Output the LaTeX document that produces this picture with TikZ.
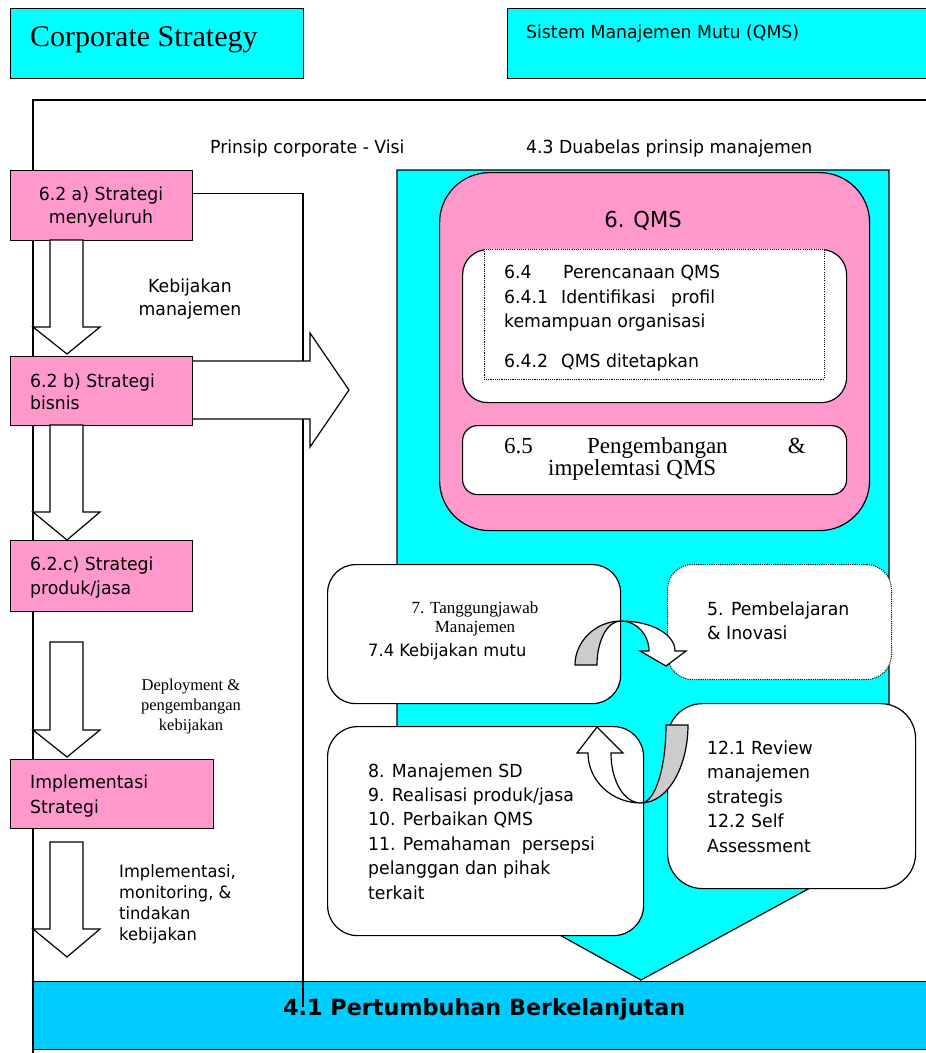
\documentclass[tikz,border=0pt]{standalone}
\usepackage{fontspec}
\setmainfont{DejaVu Sans}[FakeStretch=0.96]
\newfontfamily\serf{Liberation Serif}
\newfontfamily\barf{DejaVu Sans}
\definecolor{cyanA}{HTML}{00FFFF}
\definecolor{pinkA}{HTML}{FF99CC}
\definecolor{blueA}{HTML}{00CCFF}
\definecolor{grayA}{HTML}{CCCCCC}
\tikzset{
  box/.style={draw, line width=1.2pt, inner sep=0pt, anchor=north west},
  cyanbox/.style={box, fill=cyanA},
  pinkbox/.style={box, fill=pinkA},
  wbox/.style={box, fill=white},
  dotbox/.style={box, fill=white, line width=1pt, dash pattern=on 1.1pt off 1.1pt},
  txt/.style={inner sep=0pt, anchor=base west, align=left, font=\fontsize{18}{23.5}\selectfont},
  ctxt/.style={txt, anchor=base, align=center},
  blockarrow/.style={draw, fill=white, line width=1.2pt, line join=miter},
  curvegray/.style={draw, fill=grayA, line width=1.2pt},
  curvewhite/.style={draw, fill=white, line width=1.2pt, line join=miter},
  frame/.style={draw, line width=1.2pt},
}
\begin{document}
\begin{tikzpicture}[x=1pt, y=-1pt]
\useasboundingbox (0,0) rectangle (926,1053);

% ---- top title boxes
\node[cyanbox, minimum width=293pt, minimum height=70pt] (cs) at (10,8) {};
\node[txt, font=\serf\fontsize{30}{32}\selectfont] (cst) at (30,46) {Corporate Strategy};
\node[cyanbox, minimum width=430pt, minimum height=70pt] (qb) at (507,8) {};
\node[txt, font=\fontsize{18}{22}\selectfont] (qbt) at (526,38) {Sistem Manajemen Mutu (QMS)};

% ---- outer frame
\coordinate (ftr) at (926,100);
\coordinate (ftl) at (33,100);
\coordinate (fbl) at (33,1053);
\draw[frame] (ftr) -- (ftl) -- (fbl);

\node[txt] (pv) at (210,153) {Prinsip corporate - Visi};
\node[txt] (dp) at (526,153) {4.3 Duabelas prinsip manajemen};

% ---- bottom bar
\node[box, fill=blueA, minimum width=900pt, minimum height=68pt] (bar) at (33,981) {};
\node[txt, font=\barf\bfseries\fontsize{22.3}{24}\selectfont] (bart) at (283,1015) {4.1 Pertumbuhan Berkelanjutan};

% ---- left column boxes
\node[pinkbox, minimum width=182pt, minimum height=70pt] (a) at (10,170) {};
\node[pinkbox, minimum width=182pt, minimum height=71pt] (c) at (10,540) {};
\node[pinkbox, minimum width=203pt, minimum height=69pt] (d) at (10,759) {};

% vertical line from 6.2 a) down into the bar
\coordinate (v2) at (303,1007);
\draw[frame] ([yshift=12pt]a.east) -| (v2);

% big right block arrow from 6.2 b)
\draw[blockarrow] (192,361) -- (310,361) -- (310,333) -- (349,390) -- (310,447) -- (310,419) -- (192,419);
\node[pinkbox, minimum width=182pt, minimum height=69pt] (b) at (10,356) {};

% down block arrows
\draw[blockarrow] (50,240) -- (83,240) -- (83,327) -- (100,327) -- (67,354) -- (33,327) -- (50,327) -- cycle;
\draw[blockarrow] (50,425) -- (83,425) -- (83,512) -- (100,512) -- (67,540) -- (33,512) -- (50,512) -- cycle;
\draw[blockarrow] (50,642) -- (83,642) -- (83,730) -- (100,730) -- (67,757) -- (33,730) -- (50,730) -- cycle;
\draw[blockarrow] (50,842) -- (83,842) -- (83,929) -- (100,929) -- (67,957) -- (33,929) -- (50,929) -- cycle;

% (anchor = baseline of the last line)
\node[ctxt, font=\fontsize{18}{23}\selectfont] (at) at (101,223) {6.2 a) Strategi\\menyeluruh};
\node[txt, font=\fontsize{18}{22}\selectfont] (bt) at (30,409) {6.2 b) Strategi\\bisnis};
\node[txt, font=\fontsize{18}{24.5}\selectfont] (ct) at (30,594.5) {6.2.c) Strategi\\produk/jasa};
\node[txt, font=\fontsize{18}{25}\selectfont] (dt) at (30,813) {Implementasi\\Strategi};

\node[ctxt, font=\fontsize{18}{23}\selectfont] (km) at (190,315) {Kebijakan\\manajemen};
\node[ctxt, font=\serf\fontsize{16.5}{20}\selectfont] (dep) at (191,730) {Deployment \&\\pengembangan\\kebijakan};
\node[txt, font=\fontsize{17}{21}\selectfont] (imp) at (119,940) {Implementasi,\\monitoring, \&\\tindakan\\kebijakan};

% ---- QMS big cyan down arrow
\draw[frame, fill=cyanA, line join=miter] (397,170) -- (889,170) -- (889,845) -- (641,980) -- (397,845) -- cycle;

\node[pinkbox, rounded corners=50pt, minimum width=430pt, minimum height=358pt] (qms) at (439,172) {};
\node[ctxt, font=\fontsize{22}{26}\selectfont] (qmst) at (643,227) {6. QMS};

\node[wbox, rounded corners=25pt, minimum width=384pt, minimum height=153pt] (p1) at (462,249) {};
\draw[fill=white, line width=1pt, dash pattern=on 1.1pt off 1.1pt] (484,249) rectangle (824,379);
\node[txt] (t64) at (504,278) {6.4};
\node[txt] (t64b) at (563,278) {Perencanaan QMS};
\node[txt] (t641) at (504,303) {6.4.1};
\node[txt] (t641b) at (561,303) {Identifikasi};
\node[txt] (t641c) at (671,303) {profil};
\node[txt] (t641d) at (504,327) {kemampuan organisasi};
\node[txt] (t642) at (504,367) {6.4.2};
\node[txt] (t642b) at (561,367) {QMS ditetapkan};

\node[wbox, rounded corners=15pt, minimum width=384pt, minimum height=69pt] (p2) at (462,425) {};
\node[txt, font=\serf\fontsize{23}{26}\selectfont] (t65) at (504,453) {6.5};
\node[txt, font=\serf\fontsize{23}{26}\selectfont] (t65b) at (587,453) {Pengembangan};
\node[txt, anchor=base east, font=\serf\fontsize{23}{26}\selectfont] (t65c) at (806,453) {\&};
\node[txt, font=\serf\fontsize{23}{26}\selectfont] (t65d) at (548,475) {impelemtasi QMS};

% ---- box 7 and box 5
\node[wbox, rounded corners=28pt, minimum width=293pt, minimum height=139pt] (b7) at (327,564) {};
\node[ctxt, font=\serf\fontsize{17}{19}\selectfont] (b7a) at (475,632) {7. Tanggungjawab\\Manajemen};
\node[txt, font=\fontsize{17}{21}\selectfont] (b7b) at (368,656) {7.4 Kebijakan mutu};

\node[dotbox, rounded corners=25pt, minimum width=224pt, minimum height=115pt] (b5) at (667,564) {};
\node[txt, font=\fontsize{18}{24}\selectfont] (b5t) at (707,639) {5. Pembelajaran\\\& Inovasi};

% top curved arrow
\draw[curvegray] (575,665) .. controls (575,641) and (596,621) .. (621,621)
  .. controls (607,621) and (597,641) .. (597,665) -- cycle;
\draw[curvewhite] (621,621) .. controls (651,621) and (675,634) .. (675,651)
  -- (686,651) -- (666,666) -- (640,651) -- (649,651)
  .. controls (649,634) and (636,621) .. (621,621) -- cycle;

% ---- box 8-11 and box 12
\node[wbox, rounded corners=30pt, minimum width=316pt, minimum height=209pt] (b8) at (327,726) {};
\node[txt, font=\fontsize{18}{24.4}\selectfont] (b8t) at (368,899) {8. Manajemen SD\\9. Realisasi produk/jasa\\10. Perbaikan QMS\\11. Pemahaman\ \ persepsi\\pelanggan dan pihak\\terkait};

\node[wbox, rounded corners=35pt, minimum width=248pt, minimum height=185pt] (b12) at (667,703) {};
\node[txt, font=\fontsize{18}{24.5}\selectfont] (b12t) at (707,852) {12.1 Review\\manajemen\\strategis\\12.2 Self\\Assessment};

% bottom curved arrow
\draw[curvegray] (688,725) .. controls (688,768) and (667,803) .. (641,803)
  .. controls (655,803) and (666,768) .. (666,725) -- cycle;
\draw[curvewhite] (641,803) .. controls (612,803) and (588,781) .. (588,753)
  -- (577,753) -- (597,727) -- (623,753) -- (611,753)
  .. controls (611,781) and (624,803) .. (641,803) -- cycle;

\end{tikzpicture}
\end{document}
